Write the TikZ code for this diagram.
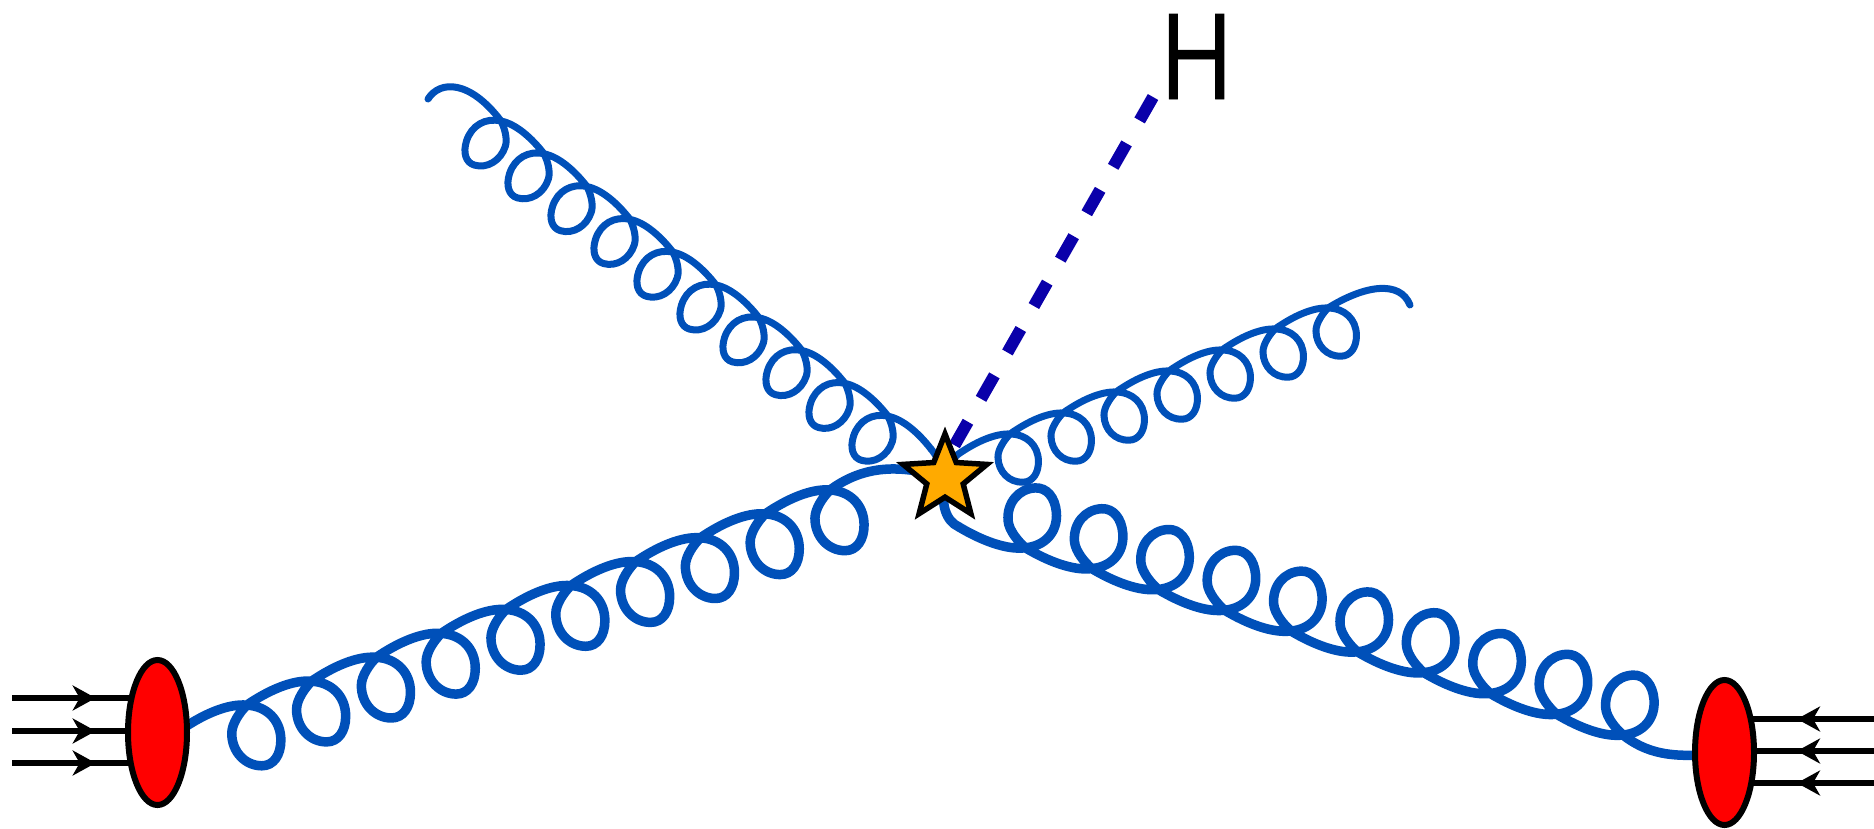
\documentclass[tikz,border=0pt]{standalone}
\usepackage{fontspec}
\newfontfamily\hfont[FakeBold=0.6]{Open Sans}
\usetikzlibrary{shapes.geometric,arrows.meta,decorations.markings}
\definecolor{gluonblue}{RGB}{0,80,185}
\definecolor{higgsblue}{RGB}{10,0,170}
\definecolor{starorange}{RGB}{255,170,0}
\tikzset{
  gluonline/.style={draw=gluonblue,line cap=round,line join=round},
  higgsline/.style={draw=higgsblue,line width=12pt,dash pattern=on 27pt off 26.4pt},
  blob/.style={draw=black,fill=red,line width=6pt,ellipse,inner sep=0pt,minimum width=59pt,minimum height=145pt},
  starnode/.style={draw=black,fill=starorange,line width=5.5pt,star,star points=5,star point ratio=2.3,inner sep=0pt,minimum size=88pt},
  proton/.style={draw=black,line width=6pt,postaction={decorate},
    decoration={markings,mark=at position #1 with {\arrow{Stealth[length=23pt,width=25pt,inset=7pt]}}}},
}
% origin x,y ; e1 x,y ; e2 x,y ; last index ; width
\newcommand{\gluonchain}[8]{%
  \begin{scope}[cm={#3,#4,#5,#6,(#1,#2)},x=1pt,y=1pt]
    \path[gluonline,line width=#8pt] (0,0)
    \foreach \i [evaluate=\i as \n using int(\i+1)] in {0,...,#7} {
      .. controls ({\i+.107},.068) and ({\i+.245},.208) .. ({\i+.255},.37)
      .. controls ({\i+.273},.668) and ({\i+.086},.977) .. ({\i-.165},1.077)
      .. controls ({\i-.341},1.148) and ({\i-.463},1.018) .. ({\i-.478},.774)
      .. controls ({\i-.498},.449) and ({\i-.301},.137) .. ({\i},0)
      .. controls ({\i+.287},-.14) and ({\i+.66},-.11) .. (\n,0)
    };
  \end{scope}}
\begin{document}
\begin{tikzpicture}[x=1pt,y=-1pt]
\useasboundingbox (0,0) rectangle (1874,828);
\coordinate (ulTip) at (428,99);
\coordinate (urTip) at (1410,305);
\coordinate (ll1) at (12,698);\coordinate (ll2) at (12,731);\coordinate (ll3) at (12,763);
\coordinate (rr1) at (1874,719);\coordinate (rr2) at (1874,751);\coordinate (rr3) at (1874,783);
\coordinate (hEnd) at (1153,97);
\coordinate (hStart) at (945,462);
\coordinate (starC) at (945,478);
\coordinate (leftC) at (157.5,732.5);
\coordinate (rightC) at (1724.5,752.5);
% Higgs
\draw[higgsline] (hEnd) -- (hStart);
\node[anchor=base,xscale=.85,font=\hfont\fontsize{119pt}{119pt}\selectfont] (hLabel) at (1196.5,99) {H};
% gluons
\draw[gluonline,line width=7pt] (ulTip) .. controls (440,80) and (470,80) .. (501,121);
\gluonchain{501}{121}{43}{-32.8}{-18}{-46}{9}{7}
\draw[gluonline,line width=7pt] (931,449) .. controls (936,455) and (940,462) .. (starC);
\draw[gluonline,line width=7pt] (urTip) .. controls (1400,280) and (1365,285) .. (1328,308);
\gluonchain{1328}{308}{-53}{-21}{4}{-48}{6}{7}
\draw[gluonline,line width=7pt] (957,455) .. controls (953,458) and (950,465) .. (starC);
\draw[gluonline,line width=9.5pt] (830,490) .. controls (860,468) and (895,462) .. (starC);
\gluonchain{830}{490}{-64.8}{-23.9}{4}{-60}{9}{9.5}
\draw[gluonline,line width=9.5pt] (rightC) .. controls (1670,760) and (1645,752) .. (1623,735);
\gluonchain{1623}{735}{-66.4}{20.8}{-1}{58.8}{9}{9.5}
\draw[gluonline,line width=9.5pt] (959,527) .. controls (946,521) and (940,505) .. (starC);
% protons
\draw[proton=.575] (ll1) -- (ll1 -| leftC);
\draw[proton=.575] (ll2) -- (ll2 -| leftC);
\draw[proton=.575] (ll3) -- (ll3 -| leftC);
\draw[proton=.515] (rr1) -- (rr1 -| rightC);
\draw[proton=.515] (rr2) -- (rr2 -| rightC);
\draw[proton=.515] (rr3) -- (rr3 -| rightC);
% blobs and star
\node[blob] (leftBlob) at (leftC) {};
\node[blob] (rightBlob) at (rightC) {};
\node[starnode] (star) at (starC) {};
\end{tikzpicture}
\end{document}
